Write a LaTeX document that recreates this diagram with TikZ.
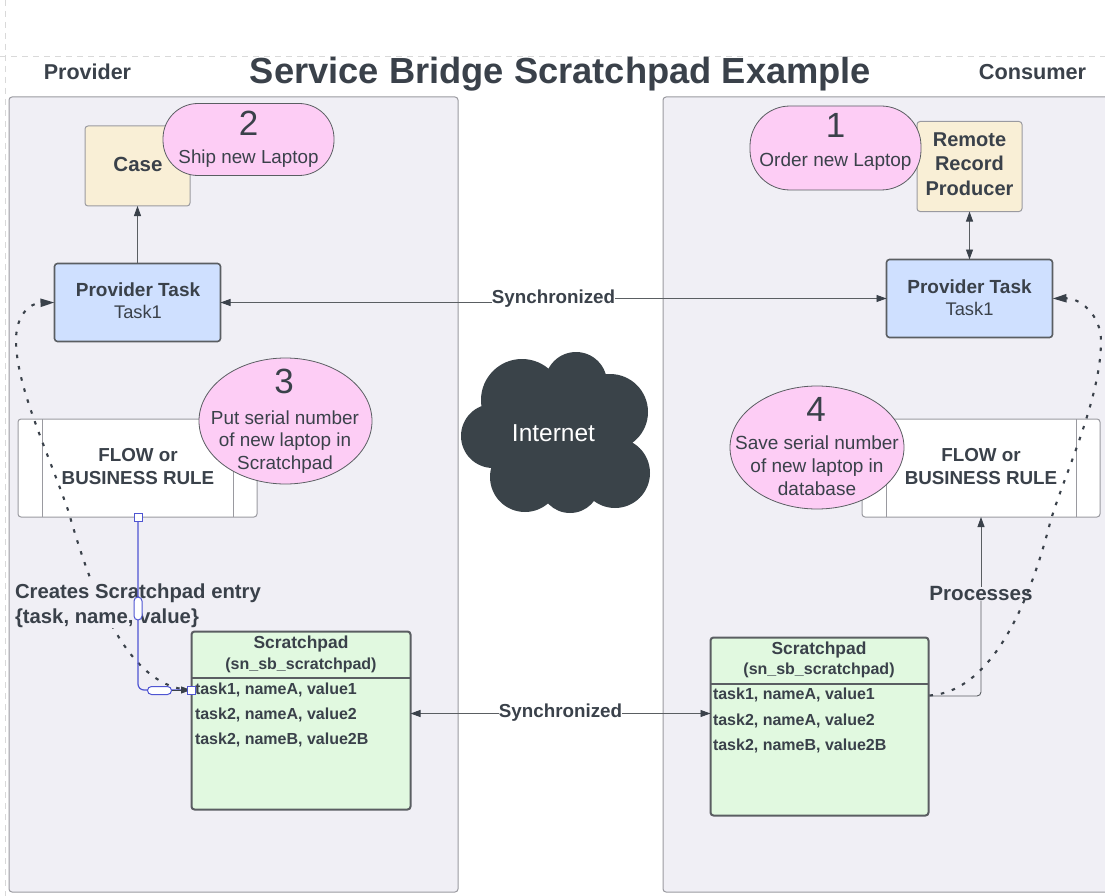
\documentclass[tikz,border=0pt]{standalone}
\usepackage{fontspec}
\setmainfont{Liberation Sans}
\usetikzlibrary{arrows.meta,shapes.geometric,calc}
\definecolor{ink}{HTML}{3A414A}
\definecolor{panelc}{HTML}{F0EFF5}
\definecolor{pinkc}{HTML}{FDCDF5}
\definecolor{creamc}{HTML}{F9EFD6}
\definecolor{bluec}{HTML}{CFE0FF}
\definecolor{greenc}{HTML}{E1F9E0}
\definecolor{cloudc}{HTML}{3A4349}
\definecolor{edgec}{HTML}{9A9AA0}
\definecolor{darkedge}{HTML}{5A5E62}
\definecolor{sel}{HTML}{4F55D2}
\tikzset{
 x=1pt,y=-1pt,
 every node/.style={text=ink,inner sep=0pt,outer sep=0pt,align=center},
 box/.style={draw=edgec,line width=1pt,rounded corners=3pt,minimum width=#1},
 panel/.style={draw=edgec,fill=panelc,line width=1pt,rounded corners=3pt},
 lab/.style={font=\fontsize{18.8}{23}\selectfont\bfseries},
 tbl/.style={font=\fontsize{16}{18}\selectfont\bfseries,anchor=west},
 arr/.style={draw=darkedge,line width=.9pt,-{Triangle[length=10pt,width=7pt,color=ink]}},
 arrb/.style={draw=darkedge,line width=.9pt,{Triangle[length=10pt,width=7pt,color=ink]}-{Triangle[length=10pt,width=7pt,color=ink]}},
 dots/.style={draw=ink,line width=2.1pt,dash pattern=on 3.5pt off 8pt},
 guide/.style={draw=black!15,line width=1pt,dash pattern=on 6pt off 5pt},
 handle/.style={draw=sel,fill=white,line width=1pt},
}
\newcommand{\sized}[2]{\fontsize{#1}{#2}\selectfont}
\begin{document}
\begin{tikzpicture}
\useasboundingbox (0,0) rectangle (1105,896);
\fill[white] (0,0) rectangle (1105,896);
% guides
\draw[guide] (5,0) -- (5,896);
\draw[guide] (0,57) -- (1105,57);
% panels
\draw[panel] (9,97) rectangle (458,892);
\draw[panel] (663,97) rectangle (1112,892);
% headers
\node[font=\sized{36.3}{42}\bfseries] (title) at (560.5,74) {Service Bridge Scratchpad Example};
\node[font=\sized{21.5}{24}\bfseries] (prov) at (87.5,72) {Provider};
\node[font=\sized{21.7}{24}\bfseries] (cons) at (1032.5,72) {Consumer};
% left column
\node[box=105pt,fill=creamc,minimum height=80pt,anchor=north west] (case) at (85,126) {};
\node[font=\sized{20.5}{24}\bfseries] (caset) at (138,164) {Case};
\node[draw=darkedge,fill=bluec,line width=1.6pt,rounded corners=3pt,minimum width=166pt,minimum height=78pt,anchor=north west] (ptl) at (54.5,263.5) {};
\node[font=\sized{19}{22}\bfseries] (ptlt) at (138,290) {Provider Task};
\node[font=\sized{18.3}{22}] (ptls) at (138,312) {Task1};
\node[box=239pt,fill=white,minimum height=98pt,anchor=north west] (flowl) at (18,419) {};
\draw[edgec,line width=1pt] (42,419) -- (42,517) (233,419) -- (233,517);
\node[lab] (flowlt) at (138,466.5) {FLOW or\\BUSINESS RULE};
% pill 2
\node[draw=darkedge,fill=pinkc,line width=.8pt,rounded corners=35pt,minimum width=171pt,minimum height=72pt,anchor=north west] (p2) at (163,103.5) {};
\node[font=\sized{35}{38}] (p2n) at (248.5,123) {2};
\node[font=\sized{18.8}{21}] (p2t) at (248.5,159) {Ship new Laptop};
% ellipse 3
\node[draw=darkedge,fill=pinkc,line width=.8pt,ellipse,minimum width=173pt,minimum height=126pt] (e3) at (285.5,421) {};
\node[font=\sized{35}{38}] (e3n) at (284,381) {3};
\node[font=\sized{18.9}{22.5}] (e3t) at (285,442) {Put serial number\\of new laptop in\\Scratchpad};
% scratchpad left
\node[draw=darkedge,fill=greenc,line width=2pt,rounded corners=3pt,minimum width=219pt,minimum height=178pt,anchor=north west] (sl) at (191.5,631.5) {};
\draw[darkedge,line width=2pt] (191.5,678) -- (410.5,678);
\node[font=\sized{17.4}{20}\bfseries] (slt) at (301,643.5) {Scratchpad};
\node[font=\sized{16}{18}\bfseries] (sls) at (301,665) {(sn\_sb\_scratchpad)};
\node[tbl] (sl1) at (195,689.5) {task1, nameA, value1};
\node[tbl] (sl2) at (195,714.5) {task2, nameA, value2};
\node[tbl] (sl3) at (195,740) {task2, nameB, value2B};
% right column
\node[box=105pt,fill=creamc,minimum height=90pt,anchor=north west] (rr) at (917,121.5) {};
\node[font=\sized{20}{24.5}\bfseries] (rrt) at (969.5,164) {Remote\\Record\\Producer};
\node[draw=darkedge,fill=pinkc,line width=.8pt,rounded corners=40pt,minimum width=171pt,minimum height=84pt,anchor=north west] (p1) at (750,106) {};
\node[font=\sized{35}{38}] (p1n) at (835.5,125) {1};
\node[font=\sized{19}{21}] (p1t) at (835.5,161.5) {Order new Laptop};
\node[draw=darkedge,fill=bluec,line width=1.6pt,rounded corners=3pt,minimum width=166pt,minimum height=78pt,anchor=north west] (ptr) at (886.5,259.5) {};
\node[font=\sized{19}{22}\bfseries] (ptrt) at (969.5,287) {Provider Task};
\node[font=\sized{18.3}{22}] (ptrs) at (969.5,309) {Task1};
\node[box=238pt,fill=white,minimum height=98pt,anchor=north west] (flowr) at (862,419) {};
\draw[edgec,line width=1pt] (886,419) -- (886,517) (1076,419) -- (1076,517);
\node[lab] (flowrt) at (981,466.5) {FLOW or\\BUSINESS RULE};
\node[draw=darkedge,fill=pinkc,line width=.8pt,ellipse,minimum width=174pt,minimum height=123pt] (e4) at (817,447.5) {};
\node[font=\sized{35}{38}] (e4n) at (816,409) {4};
\node[font=\sized{19}{22.8}] (e4t) at (817,466) {Save serial number\\of new laptop in\\database};
% scratchpad right
\node[draw=darkedge,fill=greenc,line width=2pt,rounded corners=3pt,minimum width=218pt,minimum height=178pt,anchor=north west] (sr) at (710.5,637.5) {};
\draw[darkedge,line width=2pt] (710.5,684) -- (928.5,684);
\node[font=\sized{17.4}{20}\bfseries] (srt) at (819,649.5) {Scratchpad};
\node[font=\sized{16}{18}\bfseries] (srs) at (819,670.5) {(sn\_sb\_scratchpad)};
\node[tbl] (sr1) at (713,694.5) {task1, nameA, value1};
\node[tbl] (sr2) at (713,720.5) {task2, nameA, value2};
\node[tbl] (sr3) at (713,745.5) {task2, nameB, value2B};
% cloud
\fill[cloudc] (555,432) ellipse (72 and 58);
\fill[cloudc] (493,436) circle (32) (522,400) circle (41) (576,383) circle (31) (610,412) circle (38)
 (615,473) circle (35) (570,483) circle (30) (525,477) circle (35);
\node[font=\sized{24.5}{28},text=white] (net) at (553.5,433) {Internet};
% synchronized connectors
\node[font=\sized{18.8}{22}\bfseries] (sync1) at (553.5,298.5) {Synchronized};
\node[font=\sized{18.8}{22}\bfseries] (sync2) at (560.5,712.5) {Synchronized};
\coordinate (s1l) at (sync1.west|-ptl.east);
\coordinate (s1r) at (sync1.east|-ptr.west);
\draw[arr] (s1l) -- (ptl.east);
\draw[arr] (s1r) -- (ptr.west);
\coordinate (s2y) at (0,713.5);
\draw[arr] (sync2.west|-s2y) -- (sl.east|-s2y);
\draw[arr] (sync2.east|-s2y) -- (sr.west|-s2y);
% straight connectors
\draw[arr] (case.south|-ptl.north) -- (case.south);
\draw[arrb] (rr.south) -- (rr.south|-ptr.north);
% processes
\node[font=\sized{20.6}{24}\bfseries] (proc) at (981,594) {Processes};
\coordinate (py) at (0,696);
\draw[darkedge,line width=.9pt,rounded corners=4pt] (sr.east|-py) -- (proc.south|-py) -- (proc.south);
\draw[arr] (proc.north) -- (flowrt|-flowr.south);
% dotted right
\draw[dots,-{Triangle[length=14pt,width=8pt,color=ink]}] (929.5,695.5) .. controls (985,692) and (1025,620) .. (1050,523) .. controls (1062,480) and (1101,400) .. (1101,341) .. controls (1101,315) and (1080,298) .. (ptr.east);
% dotted left
\draw[dots,-{Triangle[length=14pt,width=8pt,color=ink]}] (191,690) .. controls (120,688) and (84,565) .. (68,510) .. controls (45,445) and (16,385) .. (16,340) .. controls (16,315) and (30,303) .. (ptl.west);
% label on top of dotted line
\node[font=\sized{20.3}{25}\bfseries,fill=panelc,align=left,anchor=north west,inner ysep=1pt] (creates) at (15,582.5) {Creates Scratchpad entry\\\{task, name, value\}};
% selected connector
\coordinate (bs) at (138,517);
\coordinate (be) at (191,690);
\draw[sel,line width=1.2pt,rounded corners=6pt] (bs) -- (138,690) -- (be);
\draw[arr,draw=ink] (172,690) -- (be);
\node[handle,rounded corners=4pt,minimum width=8pt,minimum height=23pt] (h1) at (138,608.5) {};
\node[handle,rounded corners=4pt,minimum width=24pt,minimum height=8pt] (h2) at (159.5,690.5) {};
\node[handle,minimum width=8pt,minimum height=8pt] (h3) at (bs) {};
\node[handle,minimum width=8pt,minimum height=8pt] (h4) at (be) {};
\end{tikzpicture}
\end{document}
